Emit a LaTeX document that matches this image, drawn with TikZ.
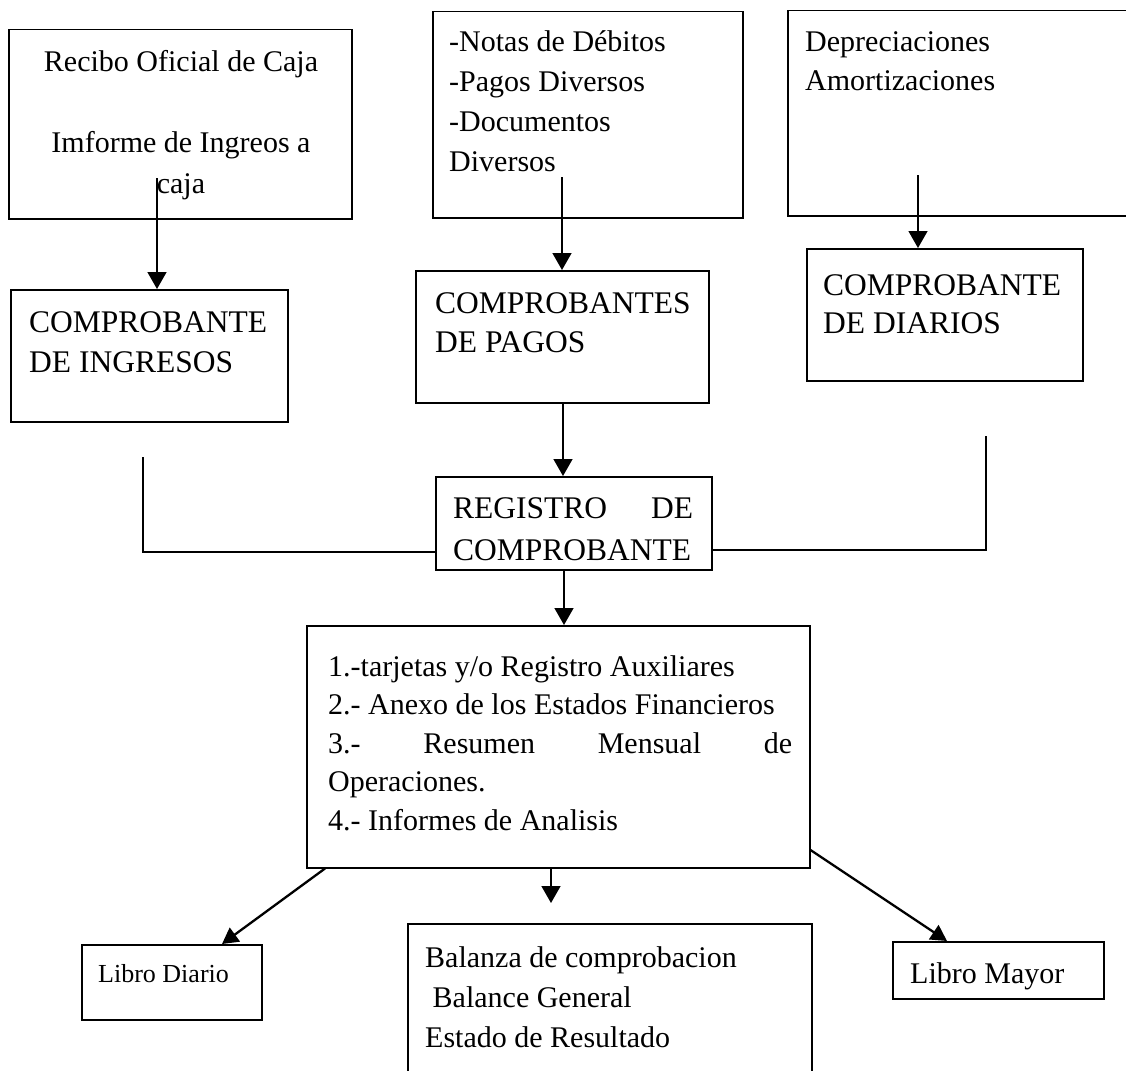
\documentclass[tikz,border=0pt]{standalone}
\usepackage{fontspec}
\setmainfont{Liberation Serif}
\usetikzlibrary{arrows.meta}
\tikzset{
  box/.style={draw, line width=1.5pt, inner sep=0pt, anchor=north west},
  txt/.style={inner sep=0pt, anchor=base west, font=\fontsize{30}{40}\selectfont},
  captxt/.style={inner sep=0pt, anchor=base west, font=\fontsize{31.5}{40}\selectfont},
  conn/.style={line width=1.5pt},
  arr/.style={line width=1.5pt, -{Triangle[length=17pt,width=19pt]}},
  darr/.style={line width=2.3pt, -{Triangle[length=16pt,width=17pt]}},
}
\newcommand{\lstack}[2]{\vtop{\baselineskip=#1\relax\halign{##\hfil\cr #2\crcr}}}
\newcommand{\cstack}[2]{\vtop{\baselineskip=#1\relax\halign{\hfil##\hfil\cr #2\crcr}}}
\begin{document}
\begin{tikzpicture}[x=1pt,y=-1pt]
\useasboundingbox (0,0) rectangle (1126,1070);
% top row
\node[box, minimum width=343pt, minimum height=189pt] (rec) at (8,29) {};
\node[txt, anchor=base] (rect) at (181,72) {\cstack{40.5pt}{Recibo Oficial de Caja\cr\cr Imforme de Ingreos a\cr caja}};
\node[box, minimum width=310pt, minimum height=206pt] (notas) at (432,11) {};
\node[txt] (notast) at (449,52) {\lstack{40pt}{-Notas de Débitos\cr -Pagos Diversos\cr -Documentos\cr Diversos}};
\node[box, minimum width=345pt, minimum height=205pt] (dep) at (787,10) {};
\node[txt] (dept) at (805,52) {\lstack{39pt}{Depreciaciones\cr Amortizaciones}};
% second row
\node[box, minimum width=277pt, minimum height=132pt] (ci) at (10,289) {};
\node[captxt] (cit) at (29,332) {\lstack{40pt}{COMPROBANTE\cr DE INGRESOS}};
\node[box, minimum width=293pt, minimum height=132pt] (cp) at (415,270) {};
\node[captxt] (cpt) at (435,313) {\lstack{39pt}{COMPROBANTES\cr DE PAGOS}};
\node[box, minimum width=276pt, minimum height=132pt] (cd) at (806,248) {};
\node[captxt] (cdt) at (823,295) {\lstack{38pt}{COMPROBANTE\cr DE DIARIOS}};
% registro
\node[box, minimum width=276pt, minimum height=93pt] (reg) at (435,476) {};
\node[captxt] (regt) at (453,518) {\lstack{42pt}{\hbox to 240pt{REGISTRO\hfill DE}\cr COMPROBANTE}};
% big box
\node[box, minimum width=503pt, minimum height=242pt] (bigb) at (306,625) {};
\node[txt] (bigt) at (328,676) {\lstack{38.5pt}{1.-tarjetas y/o Registro Auxiliares\cr 2.- Anexo de los Estados Financieros\cr \hbox to 464pt{3.-\hfill Resumen\hfill Mensual\hfill de}\cr Operaciones.\cr 4.- Informes de Analisis}};
% bottom row
\node[box, minimum width=180pt, minimum height=75pt] (ld) at (81,944) {};
\node[txt, font=\fontsize{26}{32}\selectfont] (ldt) at (98,982) {Libro Diario};
\node[box, minimum width=404pt, minimum height=160pt] (bal) at (407,923) {};
\node[txt] (balt) at (425,967) {\lstack{40pt}{Balanza de comprobacion\cr \hspace{7.5pt}Balance General\cr Estado de Resultado}};
\node[box, minimum width=211pt, minimum height=57pt] (lm) at (892,941) {};
\node[txt] (lmt) at (910,983) {Libro Mayor};
% connectors
\coordinate (s1) at (157,178);
\draw[arr] (s1) -- (s1 |- ci.north);
\coordinate (s2) at (562,177);
\draw[arr] (s2) -- (s2 |- cp.north);
\coordinate (s3) at (918,175);
\draw[arr] (s3) -- (s3 |- cd.north);
\coordinate (m1) at (563,0);
\draw[arr] (m1 |- cp.south) -- (m1 |- reg.north);
\coordinate (lt) at (143,457);
\coordinate (lc) at (143,552);
\draw[conn] (lt) -- (lc) -- (lc -| reg.west);
\coordinate (rt) at (986,436);
\coordinate (rc) at (986,550);
\draw[conn] (rt) -- (rc) -- (rc -| reg.east);
\coordinate (m2) at (564,0);
\draw[arr] (m2 |- reg.south) -- (m2 |- bigb.north);
\coordinate (d0) at (325,0);
\coordinate (d1) at (222,0);
\draw[darr] (d0 |- bigb.south) -- (d1 |- ld.north);
\coordinate (b0) at (551,0);
\coordinate (bend) at (551,903);
\draw[arr] (b0 |- bigb.south) -- (bend);
\coordinate (r0) at (0,850);
\coordinate (r1) at (947,0);
\draw[darr] (r0 -| bigb.east) -- (r1 |- lm.north);
\end{tikzpicture}
\end{document}
